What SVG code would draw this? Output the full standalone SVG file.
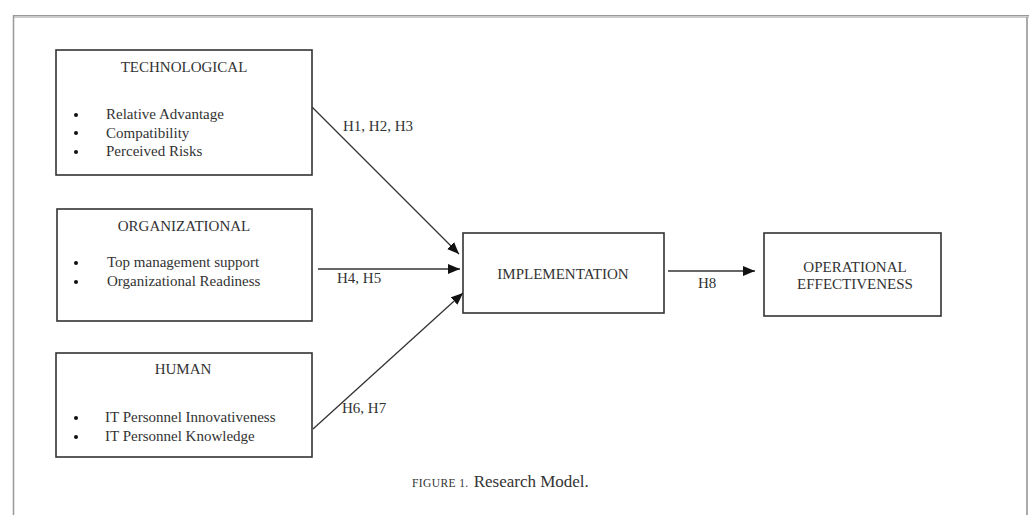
<svg xmlns="http://www.w3.org/2000/svg" width="1029" height="515" viewBox="0 0 1029 515">
<defs>
<marker id="ah" viewBox="0 0 12 10" refX="12" refY="5" markerWidth="12" markerHeight="10" markerUnits="userSpaceOnUse" orient="auto">
<path d="M0,0 L12,5 L0,10 z" fill="#111"/>
</marker>
</defs>
<style>
.box{fill:#fff;stroke:#333;stroke-width:1.6}
.t{font-family:"Liberation Serif","Times New Roman",serif;font-size:15px;fill:#333}
.c{text-anchor:middle}
.b{fill:#111}
.con{stroke:#333;stroke-width:1.3;fill:none;marker-end:url(#ah)}
</style>
<rect width="1029" height="515" fill="#fff"/>
<g id="frame">
<line x1="13" y1="16.5" x2="1029" y2="16.5" stroke="#ccc" stroke-width="3"/>
<line x1="13" y1="15.5" x2="1029" y2="15.5" stroke="#999" stroke-width="1"/>
<line x1="13.5" y1="15" x2="13.5" y2="515" stroke="#999" stroke-width="1.5"/>
<line x1="1027" y1="17" x2="1027" y2="515" stroke="#aaa" stroke-width="2"/>
</g>
<g id="connectors">
<line class="con" x1="312" y1="107" x2="459" y2="254"/>
<line class="con" x1="318" y1="269" x2="460" y2="269"/>
<line class="con" x1="313" y1="429" x2="463" y2="293"/>
<line class="con" x1="668" y1="271" x2="755" y2="271"/>
<text class="t" x="343" y="131">H1, H2, H3</text>
<text class="t" x="337" y="283">H4, H5</text>
<text class="t" x="342" y="413">H6, H7</text>
<text class="t" x="698" y="288">H8</text>
</g>
<g id="technological">
<rect class="box" x="56" y="50" width="256" height="125"/>
<text class="t c" x="184" y="72">TECHNOLOGICAL</text>
<circle class="b" cx="76" cy="115" r="2"/>
<circle class="b" cx="76" cy="133" r="2"/>
<circle class="b" cx="76" cy="152" r="2"/>
<text class="t" x="106" y="119">Relative Advantage</text>
<text class="t" x="106" y="137.5">Compatibility</text>
<text class="t" x="106" y="156">Perceived Risks</text>
</g>
<g id="organizational">
<rect class="box" x="57" y="209" width="255" height="112"/>
<text class="t c" x="184" y="231">ORGANIZATIONAL</text>
<circle class="b" cx="76" cy="263" r="2"/>
<circle class="b" cx="76" cy="282" r="2"/>
<text class="t" x="107" y="267">Top management support</text>
<text class="t" x="107" y="286">Organizational Readiness</text>
</g>
<g id="human">
<rect class="box" x="56" y="353" width="256" height="104"/>
<text class="t c" x="183" y="374">HUMAN</text>
<circle class="b" cx="76" cy="418" r="2"/>
<circle class="b" cx="76" cy="437" r="2"/>
<text class="t" x="105" y="422">IT Personnel Innovativeness</text>
<text class="t" x="105" y="441">IT Personnel Knowledge</text>
</g>
<g id="implementation">
<rect class="box" x="463" y="233" width="201" height="80"/>
<text class="t c" x="563" y="279">IMPLEMENTATION</text>
</g>
<g id="operational">
<rect class="box" x="764" y="233" width="177" height="83"/>
<text class="t c" x="855" y="272">OPERATIONAL</text>
<text class="t c" x="855" y="289">EFFECTIVENESS</text>
</g>
<g id="caption">
<text x="412" y="487" font-family="'Liberation Serif','Times New Roman',serif" fill="#333"><tspan font-size="11.5px" letter-spacing="0.4">FIGURE 1.</tspan><tspan font-size="17px" dx="5">Research Model.</tspan></text>
</g>
</svg>
